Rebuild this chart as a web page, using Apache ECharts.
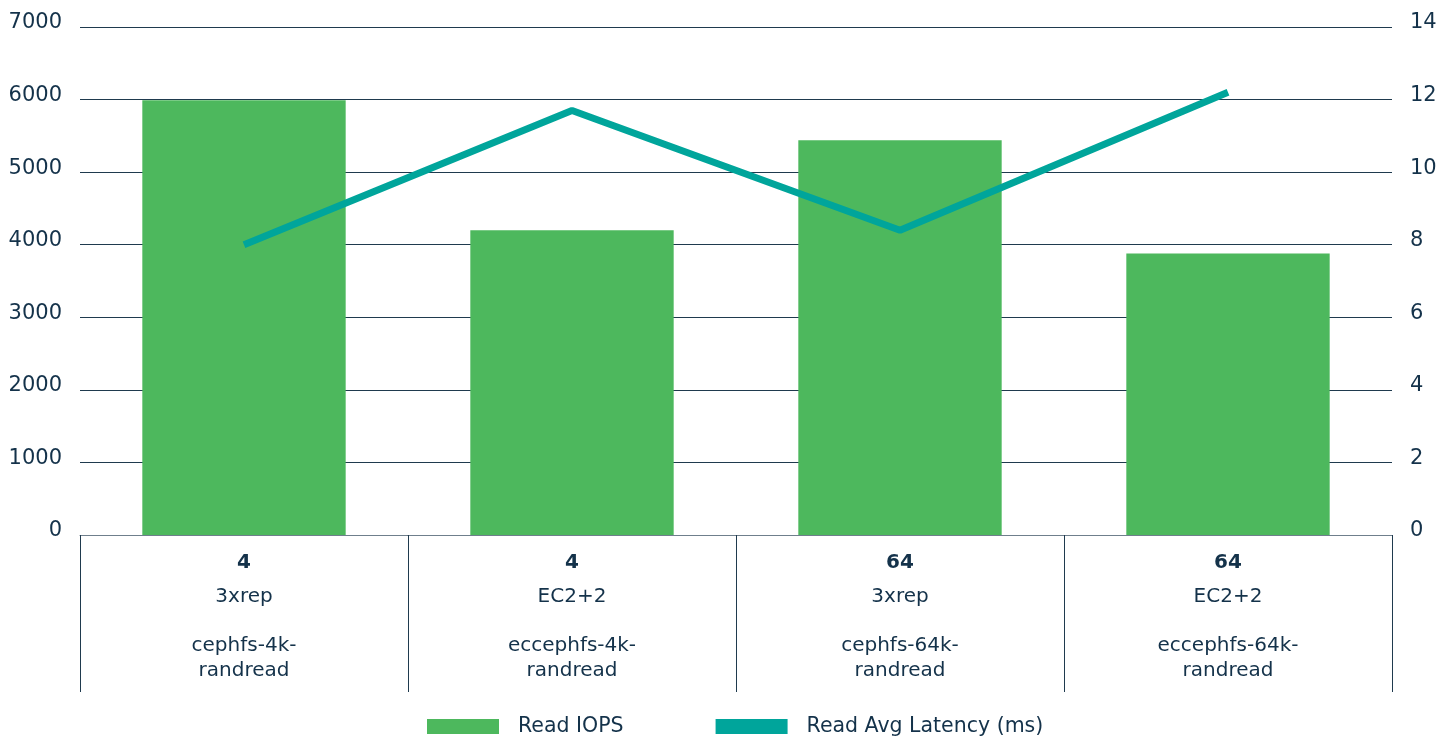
<!DOCTYPE html>
<html><head><meta charset="utf-8">
<script src="https://cdn.jsdelivr.net/npm/echarts@6/dist/echarts.min.js"></script>
<style>html,body{margin:0;padding:0;background:#fff}#c{width:1450px;height:741px}</style>
</head><body><div id="c"></div>
<script>
const categories = ["4|3xrep|cephfs-4k-|randread", "4|EC2+2|eccephfs-4k-|randread", "64|3xrep|cephfs-64k-|randread", "64|EC2+2|eccephfs-64k-|randread"];
const readIops = [5990, 4200, 5440, 3880];
const readLatency = [8.0, 11.7, 8.4, 12.2];
const leftTicks = [0, 7000, 1000];
const rightTicks = [0, 14, 2];

const TXT = '#14324a';
const FONT = 'DejaVu Sans';
const chart = echarts.init(document.getElementById('c'));
chart.setOption({
  animation: false,
  textStyle: {fontFamily: FONT, color: TXT},
  grid: {left: 80, right: 58, top: 27, bottom: 206},
  legend: {
    top: 711, left: 422, itemWidth: 72, itemHeight: 15, itemGap: 92,
    textStyle: {fontFamily: FONT, fontSize: 20.5, color: TXT, padding: [0, 0, 0, 14]},
    data: [{name: 'Read IOPS', icon: 'rect'}, {name: 'Read Avg Latency (ms)', icon: 'rect'}]
  },
  xAxis: {
    type: 'category', data: categories,
    axisLine: {lineStyle: {color: '#6f7f8c', width: 1}},
    axisTick: {show: true, length: 157, lineStyle: {color: '#1f3a4e', width: 1}},
    axisLabel: {
      margin: 6, interval: 0,
      formatter: v => { const p = v.split('|'); return '{b|' + p[0] + '}\n{n|' + p[1] + '}\n{n| }\n{n|' + p[2] + '}\n{n|' + p[3] + '}'; },
      rich: {
        b: {fontFamily: FONT, fontSize: 20, fontWeight: 'bold', color: TXT, lineHeight: 44},
        n: {fontFamily: FONT, fontSize: 20, color: TXT, lineHeight: 24.5}
      }
    }
  },
  yAxis: [
    {type: 'value', min: leftTicks[0], max: leftTicks[1], interval: leftTicks[2],
     axisLine: {show: false}, axisTick: {show: false},
     splitLine: {lineStyle: {color: '#1f3a4e', width: 1}},
     axisLabel: {fontFamily: FONT, fontSize: 21, color: TXT, margin: 18, verticalAlign: 'bottom', lineHeight: 8, formatter: v => String(v)}},
    {type: 'value', min: rightTicks[0], max: rightTicks[1], interval: rightTicks[2],
     axisLine: {show: false}, axisTick: {show: false}, splitLine: {show: false},
     axisLabel: {fontFamily: FONT, fontSize: 21, color: TXT, margin: 18, verticalAlign: 'bottom', lineHeight: 8, formatter: v => String(v)}}
  ],
  series: [
    {name: 'Read IOPS', type: 'bar', data: readIops, barWidth: '62%', itemStyle: {color: '#4db85d'}},
    {name: 'Read Avg Latency (ms)', type: 'line', yAxisIndex: 1, data: readLatency, symbol: 'none',
     lineStyle: {color: '#00a59b', width: 7}, itemStyle: {color: '#00a59b'}}
  ]
});
</script></body></html>
